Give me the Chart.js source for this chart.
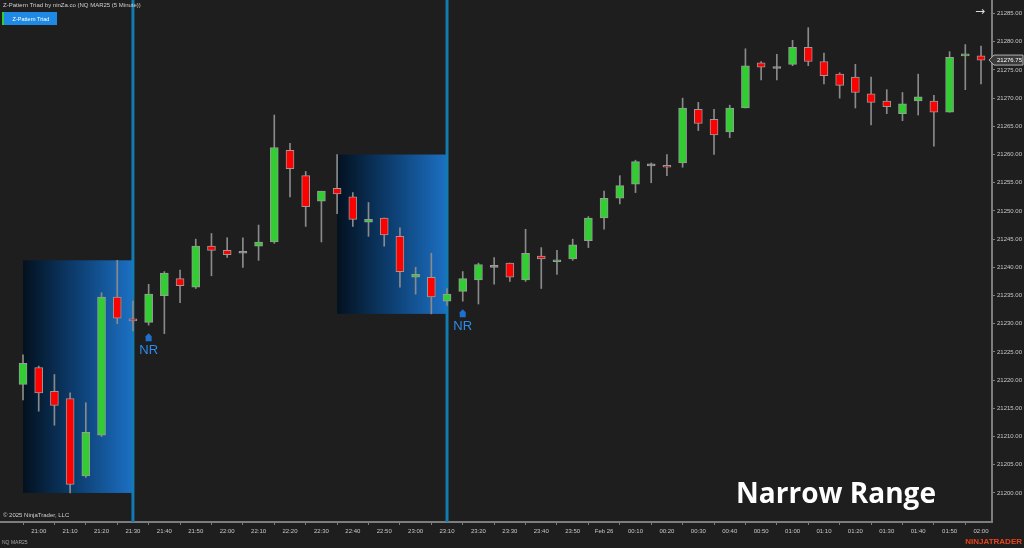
<!DOCTYPE html>
<html>
<head>
<meta charset="utf-8">
<script src="https://cdn.jsdelivr.net/npm/chart.js@4.4.1/dist/chart.umd.min.js"></script>
<style>
  html, body { margin: 0; padding: 0; background: #1e1e1e; }
</style>
</head>
<body>
<canvas id="chart" width="1024" height="548"></canvas>
<script>
// NQ MAR25, 5 minute bars
const times = ['20:55','21:00','21:05','21:10','21:15','21:20','21:25','21:30','21:35','21:40','21:45','21:50','21:55',
  '22:00','22:05','22:10','22:15','22:20','22:25','22:30','22:35','22:40','22:45','22:50','22:55',
  '23:00','23:05','23:10','23:15','23:20','23:25','23:30','23:35','23:40','23:45','23:50','23:55',
  '00:00','00:05','00:10','00:15','00:20','00:25','00:30','00:35','00:40','00:45','00:50','00:55',
  '01:00','01:05','01:10','01:15','01:20','01:25','01:30','01:35','01:40','01:45','01:50','01:55','02:00'];

const opens = [21219.25, 21222.25, 21218.0, 21216.75, 21203.0, 21210.25, 21234.75, 21230.75, 21230.25, 21235.0,
  21238.0, 21236.5, 21243.75, 21243.0, 21242.5, 21243.75, 21244.5, 21260.75, 21256.25, 21251.75,
  21254.0, 21252.5, 21248.0, 21248.75, 21245.5, 21238.25, 21238.25, 21234.0, 21235.75, 21237.75,
  21240.0, 21240.75, 21237.75, 21242.0, 21241.0, 21241.5, 21244.75, 21248.75, 21252.25, 21254.75,
  21258.0, 21258.0, 21258.5, 21268.0, 21266.25, 21264.0, 21268.25, 21276.25, 21275.25, 21276.0,
  21279.0, 21276.5, 21274.25, 21273.75, 21270.75, 21269.5, 21267.25, 21269.5, 21269.5, 21267.5,
  21277.5, 21277.5];
const highs = [21224.5, 21222.5, 21221.0, 21217.75, 21216.0, 21235.5, 21241.25, 21234.0, 21237.0, 21239.25,
  21239.5, 21245.0, 21246.0, 21245.25, 21245.25, 21247.5, 21267.0, 21262.0, 21257.0, 21253.5,
  21260.0, 21253.25, 21251.5, 21248.75, 21247.0, 21240.0, 21242.5, 21236.25, 21239.25, 21240.75,
  21241.75, 21240.75, 21246.75, 21243.5, 21243.0, 21245.0, 21249.0, 21253.5, 21256.25, 21259.0,
  21258.5, 21260.0, 21270.0, 21269.25, 21268.0, 21268.75, 21278.75, 21276.5, 21277.75, 21280.25,
  21282.5, 21278.0, 21274.5, 21276.0, 21273.75, 21271.5, 21271.0, 21274.25, 21270.5, 21278.25,
  21279.5, 21279.25];
const lows = [21216.5, 21214.5, 21212.0, 21200.0, 21202.75, 21210.0, 21230.0, 21228.75, 21229.75, 21228.25,
  21233.75, 21236.25, 21238.5, 21241.75, 21240.0, 21241.25, 21244.25, 21252.5, 21247.25, 21244.5,
  21249.5, 21247.25, 21245.5, 21243.75, 21236.5, 21235.25, 21231.75, 21233.25, 21234.0, 21233.5,
  21237.0, 21237.5, 21237.5, 21236.25, 21238.75, 21241.25, 21243.5, 21246.75, 21251.25, 21253.25,
  21255.0, 21256.25, 21257.75, 21264.25, 21260.0, 21263.0, 21268.25, 21273.25, 21273.25, 21275.75,
  21275.75, 21272.5, 21270.0, 21268.25, 21265.25, 21267.25, 21266.0, 21267.0, 21261.5, 21267.5,
  21271.5, 21272.5];
const closes = [21223.0, 21217.75, 21215.5, 21201.5, 21210.75, 21234.75, 21231.0, 21230.5, 21235.25, 21239.0,
  21236.75, 21243.75, 21243.0, 21242.25, 21242.5, 21244.5, 21261.25, 21257.5, 21250.75, 21253.5,
  21253.0, 21248.5, 21248.5, 21245.75, 21239.25, 21238.75, 21234.75, 21235.25, 21238.0, 21240.5,
  21240.0, 21238.25, 21242.5, 21241.5, 21241.25, 21244.0, 21248.75, 21252.25, 21254.5, 21258.75,
  21258.0, 21257.75, 21268.25, 21265.5, 21263.5, 21268.25, 21275.75, 21275.5, 21275.25, 21279.0,
  21276.5, 21274.0, 21272.25, 21271.0, 21269.25, 21268.5, 21269.0, 21270.25, 21267.5, 21277.25,
  21277.75, 21276.75];

// x axis labels every 10 minutes (bar 1, 3, 5, ...)
const tickLabels = ['21:00','21:10','21:20','21:30','21:40','21:50','22:00','22:10','22:20','22:30','22:40','22:50',
  '23:00','23:10','23:20','23:30','23:40','23:50','Feb 26','00:10','00:20','00:30','00:40','00:50',
  '01:00','01:10','01:20','01:30','01:40','01:50','02:00'];
const priceTicks = [21200, 21205, 21210, 21215, 21220, 21225, 21230, 21235, 21240, 21245,
  21250, 21255, 21260, 21265, 21270, 21275, 21280, 21285];

// narrow range zones (bar indexes) and NR signal bars
const boxStart = [0, 20];
const boxEnd = [7, 27];
const nrBars = [8, 28];

const GREEN = '#32cd32', RED = '#ff0000', GREY = '#9a9a9a';
const bodyColors = closes.map((c, i) => c > opens[i] ? GREEN : (c < opens[i] ? RED : GREY));

const bgPlugin = {
  id: 'bg',
  beforeDraw(chart) {
    const ctx = chart.ctx;
    ctx.save();
    ctx.fillStyle = '#1e1e1e';
    ctx.fillRect(0, 0, chart.width, chart.height);
    ctx.restore();
  },
  beforeDatasetsDraw(chart) {
    const ctx = chart.ctx, xs = chart.scales.x, ys = chart.scales.y, area = chart.chartArea;
    ctx.save();
    boxStart.forEach((s, b) => {
      const e = boxEnd[b];
      const hi = Math.max(...highs.slice(s, e + 1));
      const lo = Math.min(...lows.slice(s, e + 1));
      const x0 = xs.getPixelForValue(s), x1 = xs.getPixelForValue(e);
      const y0 = ys.getPixelForValue(hi), y1 = ys.getPixelForValue(lo);
      const g = ctx.createLinearGradient(x0, 0, x1, 0);
      g.addColorStop(0, '#03111f');
      g.addColorStop(0.5, '#0d3f72');
      g.addColorStop(1, '#1c70c4');
      ctx.fillStyle = g;
      ctx.fillRect(x0, y0, x1 - x0, y1 - y0);
      // vertical signal line
      ctx.strokeStyle = '#127bb2';
      ctx.lineWidth = 3;
      ctx.beginPath();
      ctx.moveTo(x1, 0);
      ctx.lineTo(x1, area.bottom);
      ctx.stroke();
    });
    ctx.restore();
  },
  afterDraw(chart) {
    const ctx = chart.ctx, xs = chart.scales.x, ys = chart.scales.y;
    ctx.save();
    ctx.textBaseline = 'middle';

    // header
    ctx.fillStyle = '#d0d0d0';
    ctx.font = '6px "Liberation Sans"';
    ctx.textAlign = 'left';
    ctx.fillText('Z-Pattern Triad by ninZa.co (NQ MAR25 (5 Minute))', 3, 5);
    ctx.fillStyle = '#1e8ae6';
    ctx.fillRect(2, 12, 55, 13);
    ctx.fillStyle = GREEN;
    ctx.fillRect(2, 12, 2, 13);
    ctx.fillStyle = '#ffffff';
    ctx.font = '5.5px "Liberation Sans"';
    ctx.textAlign = 'center';
    ctx.fillText('Z-Pattern Triad', 31, 19);

    // arrow button
    ctx.fillStyle = '#dcdcdc';
    ctx.font = '12px "DejaVu Sans"';
    ctx.fillText('\u2192', 980, 12);

    // footer texts
    ctx.textAlign = 'left';
    ctx.fillStyle = '#cfcfcf';
    ctx.font = '6px "Liberation Sans"';
    ctx.fillText('\u00a9 2025 NinjaTrader, LLC', 3, 515);
    ctx.fillStyle = '#a8a8a8';
    ctx.font = '5px "Liberation Sans"';
    ctx.fillText('NQ MAR25', 2, 543);
    ctx.textAlign = 'right';
    ctx.fillStyle = '#e8441c';
    ctx.font = 'bold 8px "Liberation Sans"';
    ctx.fillText('NINJATRADER', 1022, 542);

    // NR markers
    nrBars.forEach(i => {
      const x = xs.getPixelForValue(i);
      const y = ys.getPixelForValue(lows[i]);
      ctx.fillStyle = '#1f6fd0';
      ctx.beginPath();
      ctx.moveTo(x - 3, y + 11);
      ctx.lineTo(x, y + 8);
      ctx.lineTo(x + 3, y + 11);
      ctx.lineTo(x + 3, y + 16);
      ctx.lineTo(x - 3, y + 16);
      ctx.closePath();
      ctx.fill();
      ctx.fillStyle = '#2d8ceb';
      ctx.font = '13px "Liberation Sans"';
      ctx.textAlign = 'center';
      ctx.fillText('NR', x, y + 25);
    });

    // last price tag
    const last = closes[closes.length - 1];
    const py = ys.getPixelForValue(last);
    ctx.beginPath();
    ctx.moveTo(989, py);
    ctx.lineTo(994, py - 5);
    ctx.lineTo(1023, py - 5);
    ctx.lineTo(1023, py + 5);
    ctx.lineTo(994, py + 5);
    ctx.closePath();
    ctx.fillStyle = '#3a3a3a';
    ctx.fill();
    ctx.strokeStyle = '#b0b0b0';
    ctx.lineWidth = 1;
    ctx.stroke();
    ctx.fillStyle = '#ffffff';
    ctx.font = '6px "Liberation Sans"';
    ctx.textAlign = 'left';
    ctx.fillText(last.toFixed(2), 997, py + 0.5);

    // caption
    ctx.fillStyle = '#ffffff';
    ctx.font = 'bold 28px "Open Sans"';
    ctx.textAlign = 'center';
    ctx.textBaseline = 'alphabetic';
    ctx.fillText('Narrow Range', 836, 503);
    ctx.restore();
  }
};

new Chart(document.getElementById('chart'), {
  type: 'bar',
  data: {
    datasets: [
      {
        label: 'body',
        data: opens.map((o, i) => ({ x: i, y: [o, closes[i]] })),
        backgroundColor: bodyColors,
        borderColor: '#9a9a9a',
        borderWidth: 1,
        borderSkipped: false,
        barThickness: 8,
        minBarLength: 2,
        grouped: false,
        order: 0
      },
      {
        label: 'wick',
        data: lows.map((l, i) => ({ x: i, y: [l, highs[i]] })),
        backgroundColor: '#8a8a8a',
        borderWidth: 0,
        barThickness: 1,
        grouped: false,
        order: 1
      }
    ]
  },
  options: {
    responsive: false,
    animation: false,
    layout: { padding: 0 },
    plugins: { legend: { display: false }, tooltip: { enabled: false } },
    scales: {
      x: {
        type: 'linear',
        min: -1.465,
        max: 61.7,
        offset: false,
        grid: { drawOnChartArea: false, drawTicks: true, tickLength: 3, tickColor: '#7d7d7d' },
        border: { color: '#7d7d7d', width: 2 },
        afterBuildTicks: s => { s.ticks = tickLabels.map((t, i) => ({ value: 1 + 2 * i })); },
        afterFit: s => { s.height = 26; s.paddingLeft = 0; s.paddingRight = 0; },
        ticks: {
          autoSkip: false,
          maxRotation: 0,
          color: '#c8c8c8',
          padding: 3,
          font: { size: 6, family: 'Liberation Sans' },
          callback: v => tickLabels[(v - 1) / 2]
        }
      },
      y: {
        position: 'right',
        min: 21194.85,
        max: 21287.4,
        grid: { drawOnChartArea: false, drawTicks: true, tickLength: 3, tickColor: '#7d7d7d' },
        border: { color: '#7d7d7d', width: 2 },
        afterBuildTicks: s => { s.ticks = priceTicks.map(v => ({ value: v })); },
        afterFit: s => { s.width = 32; s.paddingTop = 0; s.paddingBottom = 0; },
        ticks: {
          color: '#c8c8c8',
          padding: 2,
          font: { size: 6, family: 'Liberation Sans' },
          callback: v => Number(v).toFixed(2)
        }
      }
    }
  },
  plugins: [bgPlugin]
});
</script>
</body>
</html>
